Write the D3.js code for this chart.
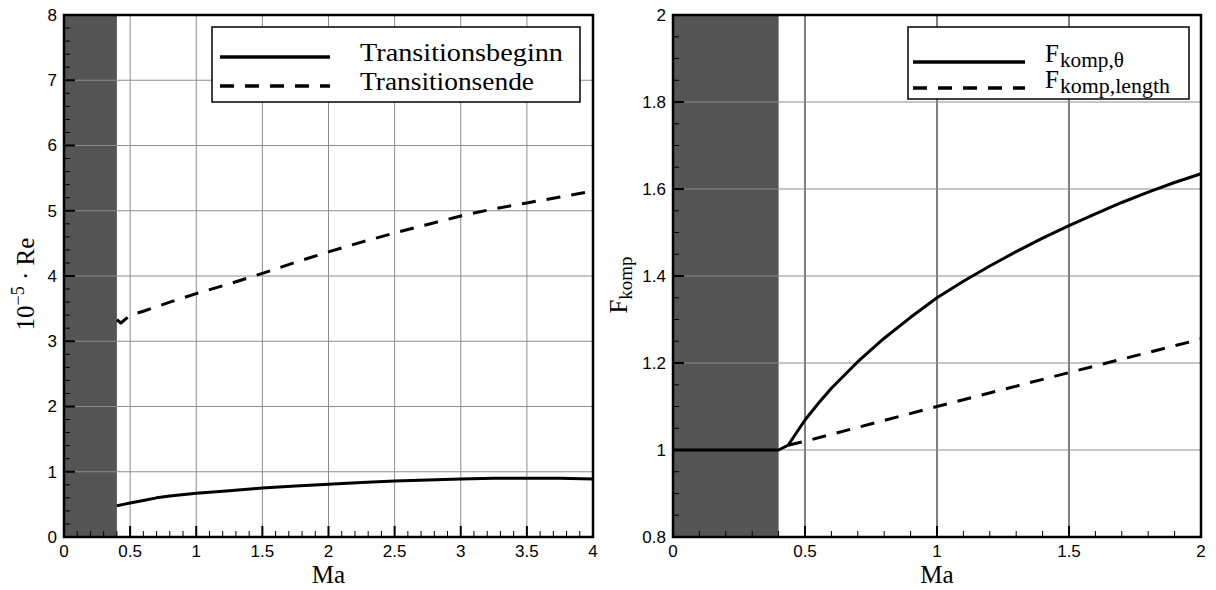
<!DOCTYPE html>
<html lang="de">
<head>
<meta charset="UTF-8">
<title>Transition vs. Ma</title>
<script src="https://d3js.org/d3.v7.min.js"></script>
<style>
    body { margin: 0; background: #fff; }
    svg { display: block; }
    .tick-label { font: 17px "Liberation Sans", Arial, sans-serif; fill: #000; }
    .serif { font-family: "Liberation Serif", "Times New Roman", serif; fill: #000; }
</style>
</head>
<body>
<div id="chart"></div>
<script>
// ---- left panel: Re at transition onset / end ----
const maBeginn = [0.4, 0.45, 0.5, 0.6, 0.7, 0.8, 1.0, 1.25, 1.5, 1.75, 2.0, 2.25, 2.5, 2.75, 3.0, 3.25, 3.5, 3.75, 4.0];
const reBeginn = [0.48, 0.50, 0.52, 0.56, 0.60, 0.63, 0.67, 0.71, 0.75, 0.78, 0.81, 0.835, 0.86, 0.875, 0.89, 0.90, 0.90, 0.90, 0.89];
const maEnde = [0.4, 0.43, 0.46, 0.5, 0.6, 0.8, 1.0, 1.25, 1.5, 1.75, 2.0, 2.25, 2.5, 2.75, 3.0, 3.25, 3.5, 3.75, 4.0];
const reEnde = [3.33, 3.28, 3.33, 3.40, 3.46, 3.60, 3.73, 3.88, 4.04, 4.21, 4.37, 4.52, 4.66, 4.79, 4.92, 5.03, 5.12, 5.21, 5.30];

// ---- right panel: compressibility factors ----
const maTheta = [0, 0.4, 0.436, 0.5, 0.55, 0.6, 0.7, 0.8, 0.9, 1.0, 1.1, 1.2, 1.3, 1.4, 1.5, 1.6, 1.7, 1.8, 1.9, 2.0];
const fTheta = [1.0, 1.0, 1.011, 1.069, 1.107, 1.142, 1.203, 1.257, 1.305, 1.350, 1.388, 1.423, 1.456, 1.487, 1.516, 1.543, 1.569, 1.593, 1.615, 1.635];
const maLength = [0.436, 0.5, 1.0, 1.5, 2.0];
const fLength = [1.011, 1.02, 1.10, 1.178, 1.255];

const shadedUpTo = 0.4;

const leftTicksX = [0, 0.5, 1, 1.5, 2, 2.5, 3, 3.5, 4];
const leftTicksY = [0, 1, 2, 3, 4, 5, 6, 7, 8];
const rightTicksX = [0, 0.5, 1, 1.5, 2];
const rightTicksY = [0.8, 1.0, 1.2, 1.4, 1.6, 1.8, 2.0];

const svg = d3.select("#chart").append("svg")
    .attr("width", 1216)
    .attr("height", 590);

const fmt = d => String(+d.toFixed(2));
const dash = "14,11";

function drawPanel(p) {
    const g = svg.append("g");
    const [x0, x1] = p.x.range();
    const [yb, yt] = p.y.range();

    // grey compressible-limit region
    g.append("rect")
        .attr("x", x0).attr("y", yt)
        .attr("width", p.x(shadedUpTo) - x0)
        .attr("height", yb - yt)
        .attr("fill", "#555");

    // grid
    g.selectAll(".vgrid").data(p.ticksX.slice(1, -1)).enter().append("line")
        .attr("x1", d => p.x(d)).attr("x2", d => p.x(d))
        .attr("y1", yt).attr("y2", yb)
        .attr("stroke", p.vGridColor).attr("stroke-width", 1);
    g.selectAll(".hgrid").data(p.ticksY.slice(1, -1)).enter().append("line")
        .attr("x1", x0).attr("x2", x1)
        .attr("y1", d => p.y(d)).attr("y2", d => p.y(d))
        .attr("stroke", "#8c8c8c").attr("stroke-width", 1);

    // minor ticks (inward, left and bottom only)
    g.selectAll(".mx").data(p.minorX).enter().append("line")
        .attr("x1", d => p.x(d)).attr("x2", d => p.x(d))
        .attr("y1", yb).attr("y2", yb - 6)
        .attr("stroke", "#000").attr("stroke-width", 1);
    g.selectAll(".my").data(p.minorY).enter().append("line")
        .attr("x1", x0).attr("x2", x0 + 6)
        .attr("y1", d => p.y(d)).attr("y2", d => p.y(d))
        .attr("stroke", "#000").attr("stroke-width", 1);
    // major ticks
    g.selectAll(".Mx").data(p.ticksX).enter().append("line")
        .attr("x1", d => p.x(d)).attr("x2", d => p.x(d))
        .attr("y1", yb).attr("y2", yb - 11)
        .attr("stroke", "#000").attr("stroke-width", 2);
    g.selectAll(".My").data(p.ticksY).enter().append("line")
        .attr("x1", x0).attr("x2", x0 + 11)
        .attr("y1", d => p.y(d)).attr("y2", d => p.y(d))
        .attr("stroke", "#000").attr("stroke-width", 2);

    // curves
    p.series.forEach(s => {
        const pts = s.xs.map((v, i) => [p.x(v), p.y(s.ys[i])]);
        g.append("path")
            .attr("d", d3.line()(pts))
            .attr("fill", "none")
            .attr("stroke", "#000")
            .attr("stroke-width", 3)
            .attr("stroke-linejoin", "round")
            .attr("stroke-dasharray", s.dashed ? dash : null);
    });

    // frame
    g.append("rect")
        .attr("x", x0).attr("y", yt)
        .attr("width", x1 - x0).attr("height", yb - yt)
        .attr("fill", "none").attr("stroke", "#000").attr("stroke-width", 2.5);

    // tick labels
    g.selectAll(".xl").data(p.ticksX).enter().append("text")
        .attr("class", "tick-label")
        .attr("x", d => p.x(d)).attr("y", yb + 20)
        .attr("text-anchor", "middle")
        .text(fmt);
    g.selectAll(".yl").data(p.ticksY).enter().append("text")
        .attr("class", "tick-label")
        .attr("x", x0 - 7).attr("y", d => p.y(d))
        .attr("dy", "0.35em")
        .attr("text-anchor", "end")
        .text(fmt);

    // x title
    g.append("text").attr("class", "serif")
        .attr("x", (x0 + x1) / 2).attr("y", 583)
        .attr("text-anchor", "middle")
        .attr("font-size", 25)
        .text("Ma");

    // legend
    const lg = p.legend;
    g.append("rect")
        .attr("x", lg.x).attr("y", lg.y)
        .attr("width", lg.w).attr("height", lg.h)
        .attr("fill", "#fff").attr("stroke", "#000").attr("stroke-width", 1.5);
    lg.items.forEach((it, i) => {
        g.append("line")
            .attr("x1", lg.lineX[0]).attr("x2", lg.lineX[1])
            .attr("y1", lg.rows[i]).attr("y2", lg.rows[i])
            .attr("stroke", "#000").attr("stroke-width", 3.5)
            .attr("stroke-dasharray", it.dashed ? dash : null);
        const t = g.append("text").attr("class", "serif")
            .attr("x", lg.textX).attr("y", lg.rows[i] + lg.textDy)
            .attr("font-size", lg.fontSize);
        const m = t.append("tspan").text(it.main);
        if (it.len) m.attr("textLength", it.len).attr("lengthAdjust", "spacingAndGlyphs");
        if (it.sub) {
            t.append("tspan").attr("font-size", 20).attr("dx", 1).attr("dy", 5)
                .attr("textLength", it.subLen).attr("lengthAdjust", "spacingAndGlyphs")
                .text(it.sub);
        }
    });
    return g;
}

const xL = d3.scaleLinear([0, 4], [64, 593]);
const yL = d3.scaleLinear([0, 8], [537, 15]);
drawPanel({
    x: xL, y: yL,
    ticksX: leftTicksX, ticksY: leftTicksY,
    minorX: d3.range(0, 41).map(i => i / 10).filter(v => !leftTicksX.includes(v)),
    minorY: d3.range(0, 41).map(i => i / 5).filter(v => !leftTicksY.includes(v)),
    vGridColor: "#8c8c8c",
    series: [
        { xs: maBeginn, ys: reBeginn, dashed: false },
        { xs: maEnde, ys: reEnde, dashed: true }
    ],
    legend: {
        x: 212, y: 27, w: 368, h: 75,
        rows: [57, 86], lineX: [220, 330], textX: 360, textDy: 4, fontSize: 25,
        items: [
            { main: "Transitionsbeginn", len: 203, dashed: false },
            { main: "Transitionsende", len: 174, dashed: true }
        ]
    }
});

const xR = d3.scaleLinear([0, 2], [673, 1201]);
const yR = d3.scaleLinear([0.8, 2], [537, 15]);
drawPanel({
    x: xR, y: yR,
    ticksX: rightTicksX, ticksY: rightTicksY,
    minorX: d3.range(0, 21).map(i => i / 10).filter(v => !rightTicksX.includes(v)),
    minorY: d3.range(16, 41).map(i => i / 20).filter(v => !rightTicksY.some(t => Math.abs(t - v) < 1e-9)),
    vGridColor: "#000",
    series: [
        { xs: maTheta, ys: fTheta, dashed: false },
        { xs: maLength, ys: fLength, dashed: true }
    ],
    legend: {
        x: 908, y: 27, w: 281, h: 72,
        rows: [62, 88], lineX: [913, 1025], textX: 1045, textDy: 0, fontSize: 25,
        items: [
            { main: "F", sub: "komp,θ", subLen: 64, dashed: false },
            { main: "F", sub: "komp,length", subLen: 110, dashed: true }
        ]
    }
});

// y titles
const yt1 = svg.append("text").attr("class", "serif")
    .attr("transform", "translate(34,284) rotate(-90)")
    .attr("text-anchor", "middle")
    .attr("font-size", 25);
yt1.append("tspan").text("10");
yt1.append("tspan").attr("font-size", 18).attr("dy", -10).text("−5");
yt1.append("tspan").attr("dy", 10).text(" · Re");

const yt2 = svg.append("text").attr("class", "serif")
    .attr("transform", "translate(627,285) rotate(-90)")
    .attr("text-anchor", "middle")
    .attr("font-size", 25);
yt2.append("tspan").text("F");
yt2.append("tspan").attr("font-size", 19).attr("dy", 5).text("komp");
</script>
</body>
</html>
